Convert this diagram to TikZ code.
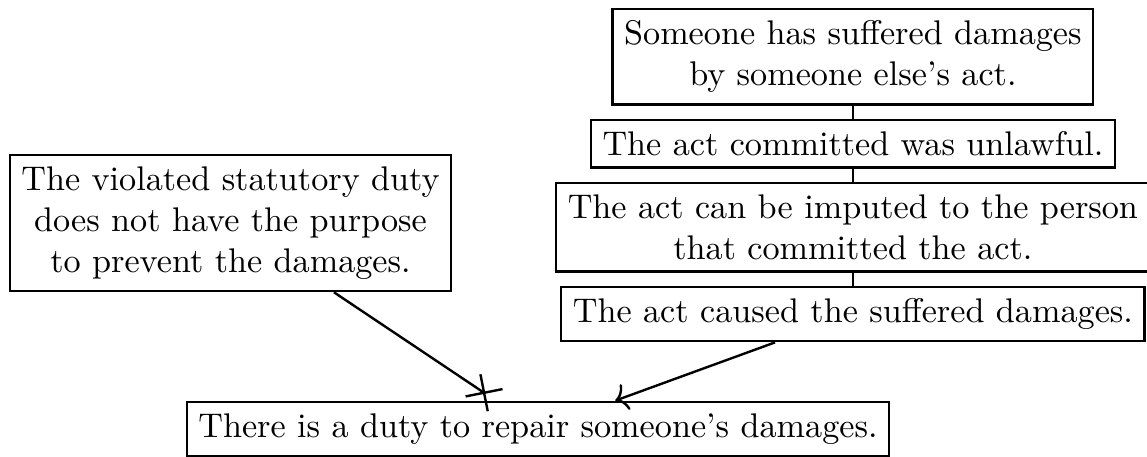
\documentclass[tikz,border=0pt]{standalone}
\usetikzlibrary{arrows.meta, positioning}
\tikzset{%
>={To[length=3.4pt, width=8pt]},
  % Specifications for style of nodes:
            claim/.style = {rectangle, draw=black, line width=0.7pt,
                            align=center, inner sep=3.4pt, font=\normalsize},
            support/.style = {->, line width=0.7pt},
            attack/.style = {-{Rays[n=4, length=11pt, width=11pt]}, line width=0.7pt}
}
\begin{document}
\begin{tikzpicture}[node distance=3.8pt, every node/.style={claim}]
                \useasboundingbox (0,0) rectangle (335.4pt,-133.6pt);

                \node[anchor=north] (damages) at (249.4pt,-2.3pt)
                    {Someone has suffered damages\\by someone else's act.};
                \node[below=of damages] (unlawful) {The act committed was unlawful.};
                \node[below=of unlawful] (imputed)
                    {The act can be imputed to the person\\that committed the act.};
                \node[below=of imputed] (caused) {The act caused the suffered damages.};
                \draw[line width=0.7pt] (damages) -- (unlawful);
                \draw[line width=0.7pt] (unlawful) -- (imputed);
                \draw[line width=0.7pt] (imputed) -- (caused);

                \node (purpose) at (67.4pt,-65.2pt)
                    {The violated statutory duty\\does not have the purpose\\to prevent the damages.};

                \node (duty) at (157.3pt,-125.4pt) {There is a duty to repair someone's damages.};
                \draw[attack] (purpose) -- (duty);
                \draw[support] (caused) -- (duty);

\end{tikzpicture}
\end{document}
